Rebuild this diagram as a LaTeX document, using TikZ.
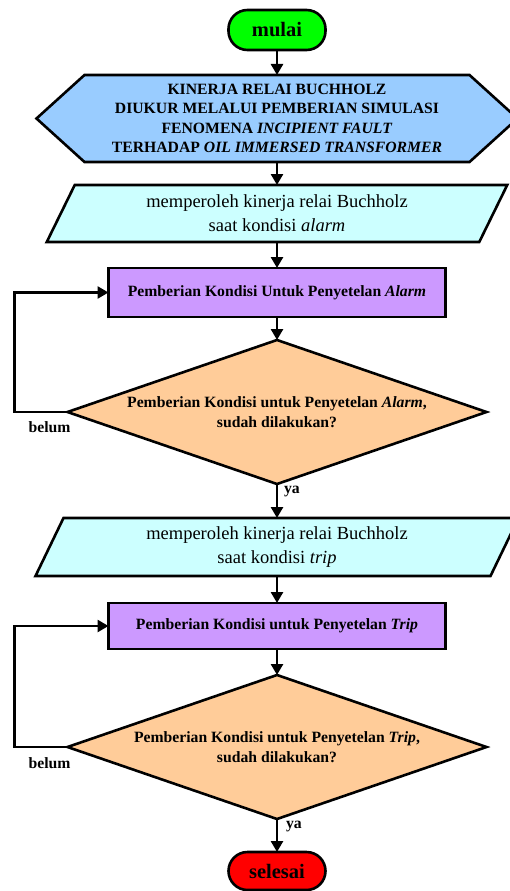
\documentclass[tikz,border=0pt]{standalone}
\usepackage{fontspec}
\setmainfont{Liberation Serif}
\usetikzlibrary{shapes.geometric,arrows.meta,backgrounds,calc}
\definecolor{termgreen}{RGB}{0,255,0}
\definecolor{termred}{RGB}{255,0,0}
\definecolor{hexblue}{RGB}{153,204,255}
\definecolor{incyan}{RGB}{204,255,255}
\definecolor{boxpurple}{RGB}{204,153,255}
\definecolor{decorange}{RGB}{255,204,153}
\begin{document}
\begin{tikzpicture}[x=1pt,y=-1pt,
  every node/.style={inner sep=0pt, outer sep=0pt},
  shp/.style={draw=black, line width=2.6pt, line join=miter},
  arr/.style={line width=2.6pt, -{Triangle[length=11pt,width=12pt]}},
  bt/.style={font=\fontsize{15.7}{19.5}\selectfont\bfseries, align=center},
  rt/.style={font=\fontsize{18.5}{24}\selectfont, align=center},
  term/.style={shp, rounded corners=19pt, minimum width=97pt, minimum height=40pt, font=\fontsize{20.5}{24}\selectfont\bfseries},
  proc/.style={shp, fill=boxpurple, minimum width=337pt, minimum height=49pt, bt},
  dec/.style={minimum width=419pt, minimum height=144pt, bt},
  lbl/.style={font=\fontsize{15.7}{19}\selectfont\bfseries}
]
\useasboundingbox (0,0) rectangle (510,891);

\node[term, fill=termgreen] (start) at (277,30) {mulai};

\node[bt, minimum width=385pt, minimum height=87pt] (hex) at (277,118.5)
  {KINERJA RELAI BUCHHOLZ\\DIUKUR MELALUI PEMBERIAN SIMULASI\\FENOMENA \textit{INCIPIENT FAULT}\\TERHADAP \textit{OIL IMMERSED TRANSFORMER}};

\node[rt, minimum width=432.5pt, minimum height=57pt] (in1) at (277,213.5)
  {memperoleh kinerja relai Buchholz\\saat kondisi \textit{alarm}};

\node[proc] (p1) at (277,292.5) {Pemberian Kondisi Untuk Penyetelan \textit{Alarm}};

\node[dec] (d1) at (277,412) {Pemberian Kondisi untuk Penyetelan \textit{Alarm},\\sudah dilakukan?};

\node[rt, minimum width=455pt, minimum height=58pt] (in2) at (277,547)
  {memperoleh kinerja relai Buchholz\\saat kondisi \textit{trip}};

\node[proc, minimum height=46pt] (p2) at (277,626) {Pemberian Kondisi untuk Penyetelan \textit{Trip}};

\node[dec] (d2) at (277,747) {Pemberian Kondisi untuk Penyetelan \textit{Trip},\\sudah dilakukan?};

\node[term, fill=termred, minimum height=38pt] (end) at (277,871) {selesai};

\begin{scope}[on background layer]
\draw[shp, fill=hexblue] (hex.north west) -- (hex.north east) -- ([xshift=48pt]hex.east)
  -- (hex.south east) -- (hex.south west) -- ([xshift=-48pt]hex.west) -- cycle;
\draw[shp, fill=incyan] ([xshift=14pt]in1.north west) -- ([xshift=14pt]in1.north east)
  -- ([xshift=-14pt]in1.south east) -- ([xshift=-14pt]in1.south west) -- cycle;
\draw[shp, fill=incyan] ([xshift=14pt]in2.north west) -- ([xshift=14pt]in2.north east)
  -- ([xshift=-14pt]in2.south east) -- ([xshift=-14pt]in2.south west) -- cycle;
\draw[shp, fill=decorange] (d1.north) -- (d1.east) -- (d1.south) -- (d1.west) -- cycle;
\draw[shp, fill=decorange] (d2.north) -- (d2.east) -- (d2.south) -- (d2.west) -- cycle;
\end{scope}

\draw[arr] (start.south) -- (hex.north);
\draw[arr] (hex.south) -- (in1.north);
\draw[arr] (in1.south) -- (p1.north);
\draw[arr] (p1.south) -- (d1.north);
\draw[arr] (d1.south) -- node[lbl, pos=0.22, right=7pt] (ya1) {ya} (in2.north);
\draw[arr] (in2.south) -- (p2.north);
\draw[arr] (p2.south) -- (d2.north);
\draw[arr] (d2.south) -- node[lbl, pos=0.24, right=9pt] (ya2) {ya} (end.north);

\draw[arr] (d1.west) -- ++(-53,0) |- (p1.west);
\draw[arr] (d2.west) -- ++(-53,0) |- (p2.west);
\node[lbl] (no1) at ($(d1.west)+(-18,15)$) {belum};
\node[lbl] (no2) at ($(d2.west)+(-18,16)$) {belum};
\end{tikzpicture}
\end{document}
